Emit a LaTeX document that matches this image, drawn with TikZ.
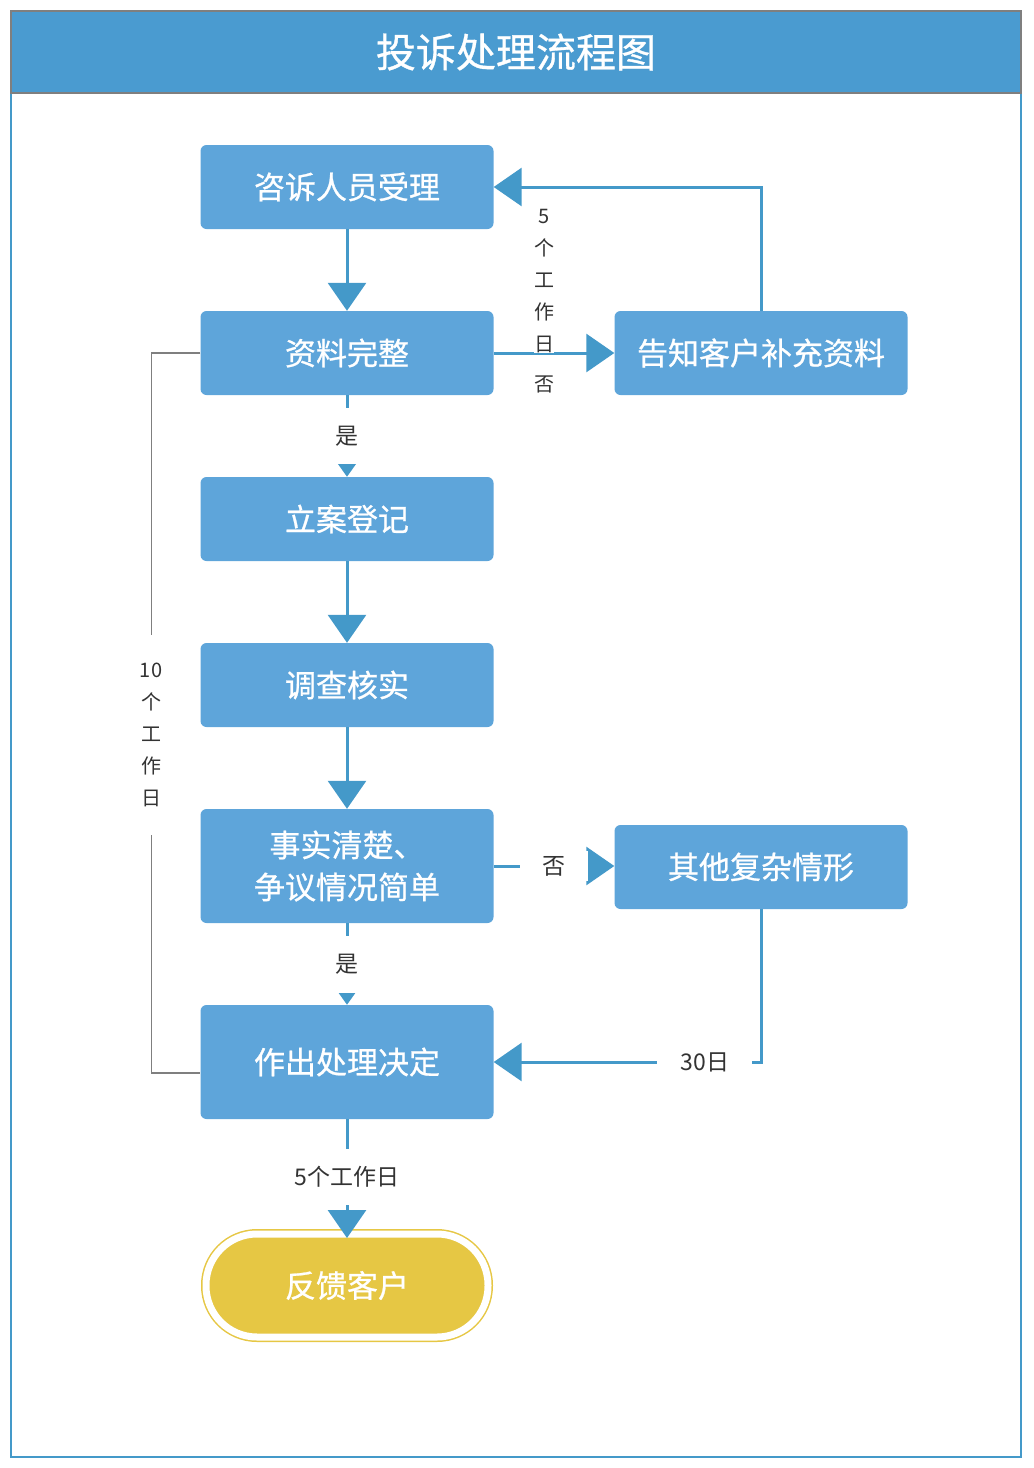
\documentclass[tikz,border=0pt]{standalone}
\usepackage{fontspec}
\newfontfamily\cjk{Noto Sans CJK SC}
\newfontfamily\cjkbox{Noto Sans CJK SC}[FakeBold=0.8]
\usetikzlibrary{arrows.meta}
\definecolor{titleblue}{HTML}{4A9BD0}
\definecolor{boxblue}{HTML}{5EA5DA}
\definecolor{lineblue}{HTML}{4499C9}
\definecolor{feedyellow}{HTML}{E6C744}
\definecolor{framegray}{HTML}{7F7F7F}
\definecolor{textgray}{HTML}{333333}
\tikzset{
  box/.style={fill=boxblue, rounded corners=6pt, minimum width=293pt, minimum height=84pt,
    text=white, font=\cjkbox\fontsize{31}{42}\selectfont, align=center, inner sep=0pt},
  tallbox/.style={box, minimum height=114pt},
  feedback/.style={fill=feedyellow, draw=feedyellow, line width=1.5pt, double=white,
    double distance=7pt, rounded corners=51pt, minimum width=282pt, minimum height=103pt,
    text=white, font=\cjkbox\fontsize{31}{42}\selectfont, inner sep=0pt, outer sep=0pt},
  flow/.style={draw=lineblue, line width=3pt, -{Triangle[width=38pt,length=28pt]}},
  flowsmall/.style={draw=lineblue, line width=3pt, -{Triangle[width=19pt,length=14pt]}},
  graylink/.style={draw=framegray, line width=1.5pt},
  lbl/.style={fill=white, text=textgray, font=\cjk\fontsize{23}{26}\selectfont, inner sep=0pt},
  vlbl/.style={fill=white, text=textgray, font=\cjk\fontsize{20}{32}\selectfont, align=center, inner sep=0pt},
}
\begin{document}
\begin{tikzpicture}[x=1pt,y=-1pt]
\useasboundingbox (0,0) rectangle (1034,1468);
% frame and title bar
\draw[lineblue, line width=1.5pt] (11,93) -- (11,1457) -- (1021,1457) -- (1021,93);
\draw[framegray, line width=2pt, fill=titleblue] (11,11) rectangle (1021,93);
\node[text=white, font=\cjkbox\fontsize{40}{48}\selectfont] (title) at (516,52) {投诉处理流程图};
% main column
\node[box] (sl) at (347,187) {咨诉人员受理};
\node[box] (zl) at (347,353) {资料完整};
\node[box] (la) at (347,519) {立案登记};
\node[box] (dc) at (347,685) {调查核实};
\node[tallbox] (ss) at (347,866) {事实清楚、\\争议情况简单};
\node[tallbox] (jd) at (347,1062) {作出处理决定};
\node[feedback] (fk) at (347,1285.5) {反馈客户};
% right column
\node[box] (bc) at (761,353) {告知客户补充资料};
\node[box] (qt) at (761,867) {其他复杂情形};
% connectors
\draw[flow] (sl) -- (zl);
\draw[flowsmall] (zl) -- node[lbl, minimum height=56pt, minimum width=30pt] (yes1) {是} (la);
\draw[flow] (la) -- (dc);
\draw[flow] (dc) -- (ss);
\draw[flowsmall] (ss) -- node[lbl, minimum height=57pt, minimum width=30pt] (yes2) {是} (jd);
\draw[flow, shorten >=-4pt] (jd) -- node[lbl, minimum height=56pt] (days5) {5个工作日} (fk);
\draw[flow] (zl) -- (bc);
\draw[flow] (bc.north) |- (sl.east);
\draw[flow] (ss.east) -- node[lbl, minimum width=68pt, minimum height=30pt] (no2) {否} (ss.east -| qt.west);
\draw[flow] (qt.south) |- node[lbl, pos=0.605, minimum width=95pt, minimum height=30pt] (days30) {30日} (jd.east);
\node[vlbl] (w5) at (544,281) {5\\个\\工\\作\\日};
\node[vlbl] (no1) at (544,384) {否};
% time limit on the left
\draw[graylink] (zl.west) -- ++(-49,0) |- ([yshift=-11pt]jd.west);
\node[vlbl, minimum height=200pt, minimum width=30pt] (w10) at (151,735) {10\\个\\工\\作\\日};
\end{tikzpicture}
\end{document}
